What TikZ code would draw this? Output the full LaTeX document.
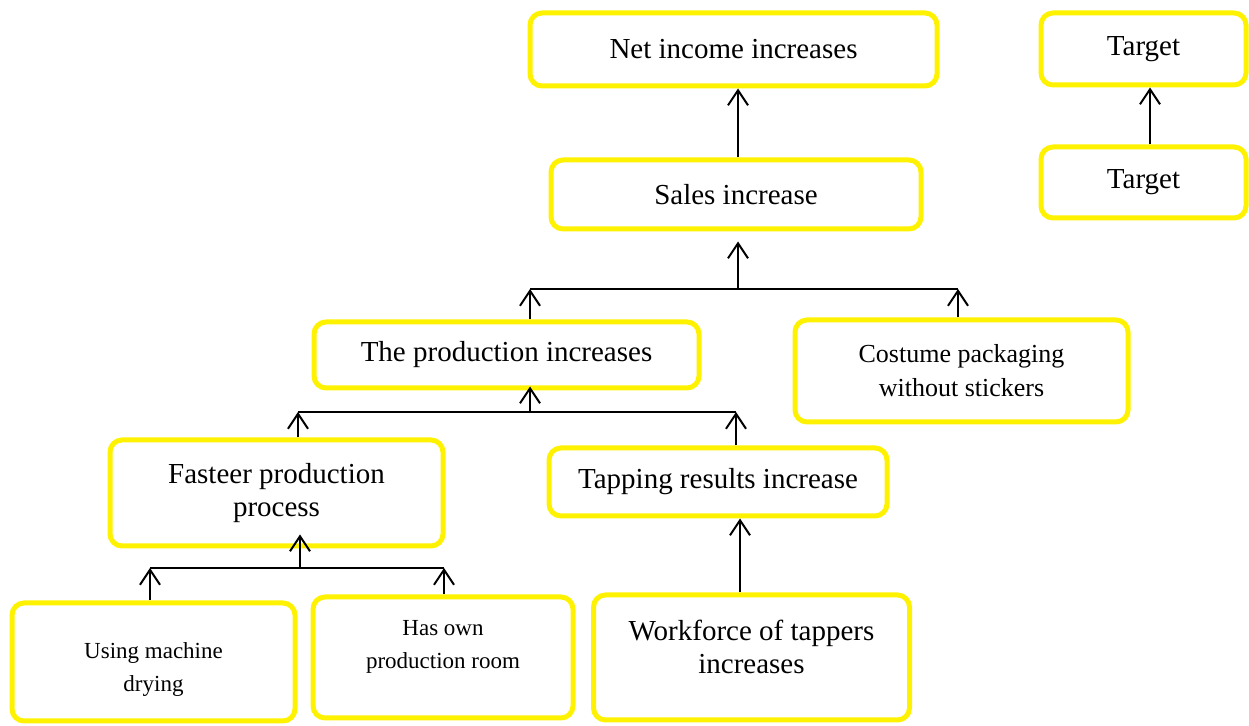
\documentclass[tikz,border=0pt]{standalone}
\usepackage{fontspec}
\setmainfont{Liberation Serif}
\usetikzlibrary{arrows.meta}

\begin{document}
\begin{tikzpicture}[x=0.5pt,y=-0.5pt]
  \tikzstyle{BoxStyle}=[draw=yellow,line width=2.5pt,rounded corners=6pt,
    inner sep=0pt,align=center,font=\fontsize{14.5}{16.5}\selectfont]
  \tikzstyle{SmallBox}=[BoxStyle,font=\fontsize{11.5}{16.5}\selectfont]
  \tikzstyle{EdgeStyle}=[black,line width=1pt,-{Straight Barb[length=7.5pt,width=10pt,line width=1pt]}]
  \tikzstyle{LineStyle}=[black,line width=1pt]

  \useasboundingbox (0,0) rectangle (1249,726);

  \node[BoxStyle,minimum width=203.5pt,minimum height=36.5pt] (net) at (733.5,49.5) {Net income increases};
  \node[BoxStyle,minimum width=185pt,minimum height=34.5pt] (sales) at (736,194.5) {Sales increase};
  \node[BoxStyle,minimum width=102.5pt,minimum height=36pt] (tgtA) at (1143.5,49) {Target};
  \node[BoxStyle,minimum width=102.5pt,minimum height=35.5pt] (tgtB) at (1143.5,182.5) {Target};
  \node[BoxStyle,minimum width=192.5pt,minimum height=33pt] (prod) at (506.5,355) {The production increases};
  \node[BoxStyle,font=\fontsize{13}{17}\selectfont,minimum width=166.5pt,minimum height=51pt] (pack) at (961.5,371) {Costume packaging\\without stickers};
  \node[BoxStyle,minimum width=166.5pt,minimum height=53pt] (fast) at (276.5,493) {Fasteer production\\process};
  \node[BoxStyle,minimum width=169pt,minimum height=34pt] (tap) at (718,482) {Tapping results increase};
  \node[SmallBox,minimum width=141.5pt,minimum height=59pt,text height=31.5pt] (dry) at (153.5,662) {Using machine\\drying};
  \node[SmallBox,minimum width=130pt,minimum height=60.5pt,text depth=13.5pt] (room) at (443,657.5) {Has own\\production room};
  \node[BoxStyle,minimum width=158pt,minimum height=62.5pt,text depth=11pt] (work) at (751.5,657.5) {Workforce of tappers\\increases};

  \coordinate (jsa) at (530,289);
  \coordinate (jsm) at (738,289);
  \coordinate (jsb) at (958,289);
  \coordinate (jpa) at (298,412);
  \coordinate (jpm) at (530,412);
  \coordinate (jpb) at (736,412);
  \coordinate (jfa) at (150,568);
  \coordinate (jfm) at (300,568);
  \coordinate (jfb) at (444,568);
  \coordinate (jt) at (740,560);
  \coordinate (jn) at (738,120);
  \coordinate (jg) at (1150,120);

  \draw[EdgeStyle] (sales.north -| jn) -- (net.south -| jn);
  \draw[EdgeStyle] (tgtB.north -| jg) -- (tgtA.south -| jg);

  \draw[LineStyle] (jsa) -- (jsb);
  \draw[EdgeStyle,shorten >=5pt] (jsm) -- (sales.south -| jsm);
  \draw[EdgeStyle] (prod.north -| jsa) -- (jsa);
  \draw[EdgeStyle] (pack.north -| jsb) -- (jsb);

  \draw[LineStyle] (jpa) -- (jpb);
  \draw[EdgeStyle,shorten >=-2pt] (jpm) -- (prod.south -| jpm);
  \draw[EdgeStyle] (fast.north -| jpa) -- (jpa);
  \draw[EdgeStyle] (tap.north -| jpb) -- (jpb);

  \draw[LineStyle] (jfa) -- (jfb);
  \draw[EdgeStyle,shorten >=-7pt] (jfm) -- (fast.south -| jfm);
  \draw[EdgeStyle] (dry.north -| jfa) -- (jfa);
  \draw[EdgeStyle] (room.north -| jfb) -- (jfb);

  \draw[EdgeStyle] (work.north -| jt) -- (tap.south -| jt);
\end{tikzpicture}
\end{document}
